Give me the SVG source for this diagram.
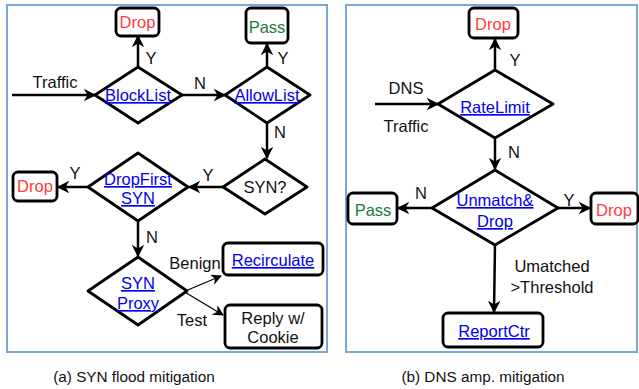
<svg xmlns="http://www.w3.org/2000/svg" width="639" height="389" viewBox="0 0 639 389">
  <style>
    text { font-family: "Liberation Sans", Arial, Helvetica, sans-serif; font-size: 16.5px; fill: #111; text-anchor: middle; }
    .panel { fill: #fff; stroke: #7aa7d9; stroke-width: 2; }
    .node { fill: #fff; stroke: #000; stroke-width: 2.8; stroke-linejoin: round; }
    .link { fill: #0000ee; text-decoration: underline; }
    .drop { fill: #ff3b3b; }
    .pass { fill: #1b7a3e; }
    .edge { fill: none; stroke: #000; stroke-width: 2.5; marker-end: url(#arrow); }
    .thin { fill: none; stroke: #000; stroke-width: 1.2; marker-end: url(#arrowS); }
    .cap { font-size: 15.3px; }
  </style>
  <defs>
    <marker id="arrow" viewBox="0 0 10 10" refX="9" refY="5" markerWidth="5" markerHeight="5" markerUnits="strokeWidth" orient="auto">
      <path d="M0,0 L10,5 L0,10 L3,5 z" fill="#000"/>
    </marker>
    <marker id="arrowS" viewBox="0 0 10 10" refX="9" refY="5" markerWidth="9" markerHeight="9" markerUnits="strokeWidth" orient="auto">
      <path d="M0,0 L10,5 L0,10 L3,5 z" fill="#000"/>
    </marker>
  </defs>

  <!-- panel frames -->
  <rect class="panel" x="7" y="5" width="320" height="347"/>
  <rect class="panel" x="346" y="5" width="291" height="347"/>

  <!-- connectors -->
  <g id="connectors">
    <path class="edge" d="M12,95 L95,95"/>
    <path class="edge" d="M138,67 L138,36"/>
    <path class="edge" d="M182,95 L225,95"/>
    <path class="edge" d="M267,67 L267,44"/>
    <path class="edge" d="M267,123 L267,158"/>
    <path class="edge" d="M223,187 L189,187"/>
    <path class="edge" d="M88,187 L58,187"/>
    <path class="edge" d="M138,221 L138,256"/>
    <path class="thin" d="M183,292 L221,276"/>
    <path class="thin" d="M183,291 L223,315"/>

    <path class="edge" d="M375,104 L438,104"/>
    <path class="edge" d="M495,70 L495,39"/>
    <path class="edge" d="M495,138 L495,169"/>
    <path class="edge" d="M432,208 L398,208"/>
    <path class="edge" d="M558,208 L590,208"/>
    <path class="edge" d="M495,245 L494,312"/>
  </g>

  <!-- connector labels -->
  <g id="edge-labels">
    <text x="55" y="88">Traffic</text>
    <text x="151" y="64">Y</text>
    <text x="200" y="89">N</text>
    <text x="283" y="64">Y</text>
    <text x="280" y="138">N</text>
    <text x="208" y="181">Y</text>
    <text x="75" y="179">Y</text>
    <text x="152" y="243">N</text>
    <text x="195" y="269">Benign</text>
    <text x="192" y="326">Test</text>

    <text x="406" y="94">DNS</text>
    <text x="406" y="132">Traffic</text>
    <text x="515" y="66">Y</text>
    <text x="514" y="158">N</text>
    <text x="421" y="199">N</text>
    <text x="569" y="206">Y</text>
    <text x="552" y="272">Umatched</text>
    <text x="552" y="293">&gt;Threshold</text>
  </g>

  <!-- SYN flood mitigation -->
  <g id="drop-a1">
    <rect class="node" x="116" y="8" width="43" height="28" rx="5"/>
    <text class="drop" x="137.5" y="28">Drop</text>
  </g>
  <g id="pass-a">
    <rect class="node" x="246" y="8" width="42" height="35" rx="5"/>
    <text class="pass" x="267" y="33">Pass</text>
  </g>
  <g id="blocklist">
    <polygon class="node" points="138,67 182,95 138,123 95,95"/>
    <text class="link" x="138" y="101">BlockList</text>
  </g>
  <g id="allowlist">
    <polygon class="node" points="267,67 310,95 267,123 225,95"/>
    <text class="link" x="267" y="101">AllowList</text>
  </g>
  <g id="syn-check">
    <polygon class="node" points="265,159 307,187 265,214 223,187"/>
    <text x="265" y="193">SYN?</text>
  </g>
  <g id="dropfirst">
    <polygon class="node" points="138,153 188,187 138,221 88,187"/>
    <text class="link" x="138" y="185">DropFirst</text>
    <text class="link" x="138" y="204">SYN</text>
  </g>
  <g id="drop-a2">
    <rect class="node" x="13" y="172" width="44" height="29" rx="5"/>
    <text class="drop" x="35" y="192">Drop</text>
  </g>
  <g id="synproxy">
    <polygon class="node" points="138,257 187,291 138,325 88,291"/>
    <text class="link" x="138" y="289">SYN </text>
    <text class="link" x="138" y="309">Proxy</text>
  </g>
  <g id="recirculate">
    <rect class="node" x="223" y="243" width="100" height="32" rx="5"/>
    <text class="link" x="273" y="266">Recirculate</text>
  </g>
  <g id="reply">
    <rect class="node" x="225" y="305" width="97" height="43" rx="5"/>
    <text x="273" y="324">Reply w/</text>
    <text x="273" y="343">Cookie</text>
  </g>

  <!-- DNS amplification mitigation -->
  <g id="drop-b1">
    <rect class="node" x="469" y="8" width="49" height="30" rx="5"/>
    <text class="drop" x="493" y="30">Drop</text>
  </g>
  <g id="ratelimit">
    <polygon class="node" points="495,70 553,104 495,138 438,104"/>
    <text class="link" x="495" y="113">RateLimit</text>
  </g>
  <g id="unmatch">
    <polygon class="node" points="495,170 558,208 495,245 432,208"/>
    <text class="link" x="495" y="206">Unmatch&amp;</text>
    <text class="link" x="495" y="227">Drop</text>
  </g>
  <g id="pass-b">
    <rect class="node" x="348" y="193" width="49" height="31" rx="5"/>
    <text class="pass" x="373" y="216">Pass</text>
  </g>
  <g id="drop-b2">
    <rect class="node" x="591" y="193" width="47" height="31" rx="5"/>
    <text class="drop" x="614" y="216">Drop</text>
  </g>
  <g id="reportctr">
    <rect class="node" x="443" y="313" width="100" height="34" rx="5"/>
    <text class="link" x="494" y="337">ReportCtr</text>
  </g>

  <!-- captions -->
  <text class="cap" x="134" y="382">(a) SYN flood mitigation</text>
  <text class="cap" x="483" y="382">(b) DNS amp. mitigation</text>
</svg>
